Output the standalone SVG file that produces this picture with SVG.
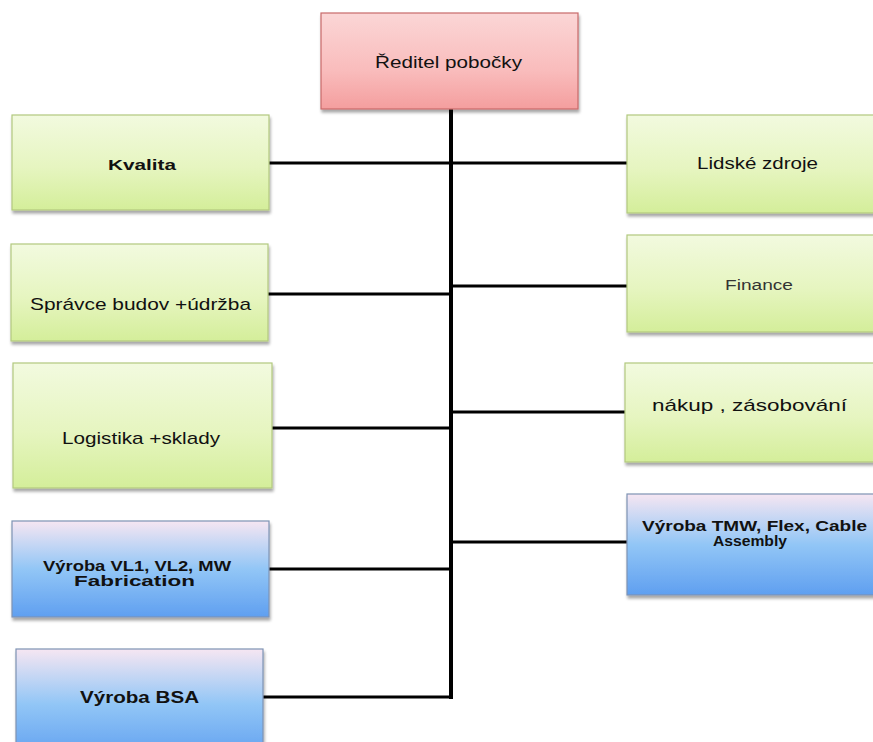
<svg xmlns="http://www.w3.org/2000/svg" width="873" height="742" viewBox="0 0 873 742">
  <defs>
    <linearGradient id="gGreen" x1="0" y1="0" x2="0" y2="1">
      <stop offset="0" stop-color="#f2fadf"/>
      <stop offset="0.55" stop-color="#e6f5c0"/>
      <stop offset="1" stop-color="#d4ee9a"/>
    </linearGradient>
    <linearGradient id="gBlue" x1="0" y1="0" x2="0" y2="1">
      <stop offset="0" stop-color="#f6e6f2"/>
      <stop offset="0.5" stop-color="#92c6f6"/>
      <stop offset="1" stop-color="#5f9ff0"/>
    </linearGradient>
    <linearGradient id="gRed" x1="0" y1="0" x2="0" y2="1">
      <stop offset="0" stop-color="#fbd6d6"/>
      <stop offset="0.6" stop-color="#f9bcbc"/>
      <stop offset="1" stop-color="#f49e9e"/>
    </linearGradient>
    <filter id="shadow" x="-5%" y="-5%" width="115%" height="120%">
      <feGaussianBlur in="SourceAlpha" stdDeviation="1.5"/>
      <feOffset dx="1" dy="3" result="b"/>
      <feComponentTransfer><feFuncA type="linear" slope="0.35"/></feComponentTransfer>
      <feMerge><feMergeNode/><feMergeNode in="SourceGraphic"/></feMerge>
    </filter>
  </defs>
  <style>
    .green { fill: url(#gGreen); stroke: #b2c97f; stroke-width: 1.2; filter: url(#shadow); }
    .blue { fill: url(#gBlue); stroke: #7e93b4; stroke-width: 1.2; filter: url(#shadow); }
    .red { fill: url(#gRed); stroke: #c86a6a; stroke-width: 1.2; filter: url(#shadow); }
    text { font-family: "Liberation Sans", Arial, sans-serif; fill: #111; text-anchor: start; }
    .b { font-weight: bold; }
    .wire { stroke: #000; fill: none; stroke-linecap: butt; }
  </style>

  <rect width="873" height="742" fill="#ffffff"/>

  <!-- connectors: central spine with horizontal branches -->
  <g id="connectors">
    <line class="wire" x1="451" y1="109" x2="451" y2="699" stroke-width="4"/>
    <line class="wire" x1="269" y1="163" x2="627" y2="163" stroke-width="3"/>
    <line class="wire" x1="451" y1="286" x2="627" y2="286" stroke-width="3"/>
    <line class="wire" x1="268" y1="294" x2="451" y2="294" stroke-width="3"/>
    <line class="wire" x1="451" y1="412" x2="625" y2="412" stroke-width="3"/>
    <line class="wire" x1="272" y1="428" x2="451" y2="428" stroke-width="3"/>
    <line class="wire" x1="451" y1="542" x2="627" y2="542" stroke-width="3"/>
    <line class="wire" x1="269" y1="569" x2="451" y2="569" stroke-width="3"/>
    <line class="wire" x1="263" y1="697" x2="453" y2="697" stroke-width="3"/>
  </g>

  <g id="reditel">
    <rect class="red" x="321" y="13" width="257" height="96"/>
    <text x="375" y="68" font-size="17" textLength="147" lengthAdjust="spacingAndGlyphs">Ředitel pobočky</text>
  </g>

  <g id="kvalita">
    <rect class="green" x="12" y="115" width="257" height="95"/>
    <text class="b" x="108" y="170" font-size="15" textLength="68" lengthAdjust="spacingAndGlyphs">Kvalita</text>
  </g>

  <g id="lidske-zdroje">
    <rect class="green" x="627" y="115" width="260" height="98"/>
    <text x="697" y="169" font-size="16" textLength="121" lengthAdjust="spacingAndGlyphs">Lidské zdroje</text>
  </g>

  <g id="spravce">
    <rect class="green" x="11" y="244" width="257" height="97"/>
    <text x="30" y="310" font-size="17" textLength="221" lengthAdjust="spacingAndGlyphs">Správce budov +údržba</text>
  </g>

  <g id="finance">
    <rect class="green" x="627" y="235" width="260" height="97"/>
    <text x="725" y="290" font-size="14" style="fill:#333" textLength="68" lengthAdjust="spacingAndGlyphs">Finance</text>
  </g>

  <g id="logistika">
    <rect class="green" x="13" y="363" width="259" height="125"/>
    <text x="62" y="444" font-size="17" textLength="158" lengthAdjust="spacingAndGlyphs">Logistika +sklady</text>
  </g>

  <g id="nakup">
    <rect class="green" x="625" y="363" width="262" height="99"/>
    <text x="652" y="411" font-size="17" textLength="195" lengthAdjust="spacingAndGlyphs">nákup , zásobování</text>
  </g>

  <g id="vyroba-tmw">
    <rect class="blue" x="627" y="494" width="260" height="101"/>
    <text class="b" x="642" y="531" font-size="14" textLength="225" lengthAdjust="spacingAndGlyphs">Výroba TMW, Flex, Cable</text>
    <text class="b" x="713" y="546" font-size="14" textLength="74" lengthAdjust="spacingAndGlyphs">Assembly</text>
  </g>

  <g id="vyroba-vl">
    <rect class="blue" x="12" y="521" width="257" height="96"/>
    <text class="b" x="43" y="571" font-size="14" textLength="188" lengthAdjust="spacingAndGlyphs">Výroba VL1, VL2, MW</text>
    <text class="b" x="74" y="586" font-size="14" textLength="121" lengthAdjust="spacingAndGlyphs">Fabrication</text>
  </g>

  <g id="vyroba-bsa">
    <rect class="blue" x="16" y="649" width="247" height="110"/>
    <text class="b" x="80" y="703" font-size="16" textLength="119" lengthAdjust="spacingAndGlyphs">Výroba BSA</text>
  </g>
</svg>
